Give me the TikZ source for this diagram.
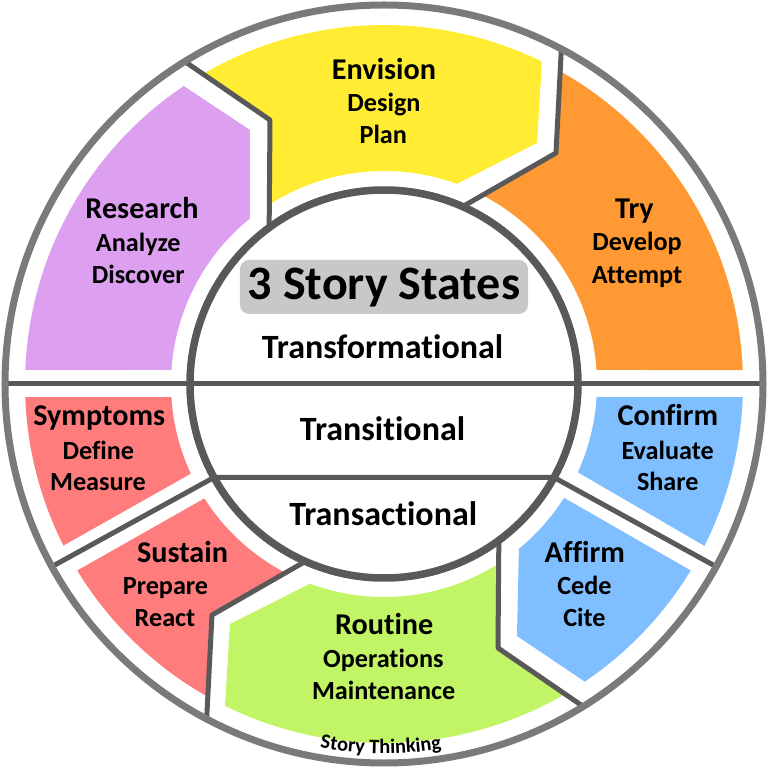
\documentclass[tikz,border=0pt]{standalone}
\usepackage{fontspec}
\setmainfont{Carlito}[Ligatures=NoCommon]
\usetikzlibrary{decorations.text}
\definecolor{ringgray}{HTML}{7A7A7A}
\definecolor{linegray}{HTML}{595959}
\definecolor{boxgray}{HTML}{C8C8C8}
\definecolor{researchfill}{HTML}{DDA0F0}
\definecolor{envisionfill}{HTML}{FFEC33}
\definecolor{tryfill}{HTML}{FF9933}
\definecolor{confirmfill}{HTML}{80BFFF}
\definecolor{routinefill}{HTML}{C1F565}
\definecolor{sustainfill}{HTML}{FF7C7C}
\begin{document}
\begin{tikzpicture}[x=1pt,y=1pt,
  divider/.style={draw=linegray, line width=5pt, line join=round},
  mainword/.style={anchor=base, inner sep=0pt, font=\bfseries\fontsize{30.2}{31}\selectfont},
  subword/.style={anchor=base, inner sep=0pt, font=\bfseries\fontsize{26.2}{27}\selectfont},
  statename/.style={anchor=base, inner sep=0pt, font=\bfseries\fontsize{34}{35}\selectfont}]
\useasboundingbox (-384,-384) rectangle (384,384);

\fill[researchfill] (-134,254) -- (129:213) arc[start angle=129, end angle=176.2, radius=213]
  -- (177.8:359) arc[start angle=177.8, end angle=123.9, radius=359] -- cycle;
\fill[envisionfill] (120.3:359) arc[start angle=120.3, end angle=63.9, radius=359]
  -- (153,241) -- (70:213) arc[start angle=70, end angle=122.4, radius=213] -- (-114,264) -- cycle;
\fill[tryfill] (60.65:359) arc[start angle=60.65, end angle=2.2, radius=359]
  -- (3.8:213) arc[start angle=3.8, end angle=62.2, radius=213] -- (172,231) -- cycle;
\fill[confirmfill] (-2.1:359) arc[start angle=-2.1, end angle=-26.8, radius=359]
  -- (-24.5:213) arc[start angle=-24.5, end angle=-3.5, radius=213] -- cycle;
\fill[confirmfill] (-31.3:359) arc[start angle=-31.3, end angle=-56, radius=359]
  -- (133,-252) -- (-50.7:213) arc[start angle=-50.7, end angle=-32.3, radius=213] -- cycle;
\fill[routinefill] (-59.8:359) arc[start angle=-59.8, end angle=-116.3, radius=359]
  -- (-154,-240) -- (-110.3:213) arc[start angle=-110.3, end angle=-57.6, radius=213] -- (114,-264) -- cycle;
\fill[sustainfill] (211.3:359) arc[start angle=211.3, end angle=240.7, radius=359]
  -- (-172,-231) -- (242.2:213) arc[start angle=242.2, end angle=212.5, radius=213] -- cycle;
\fill[sustainfill] (182.1:359) arc[start angle=182.1, end angle=206.75, radius=359]
  -- (204.9:213) arc[start angle=204.9, end angle=183.5, radius=213] -- cycle;

\draw[divider] (-379,0) -- (379,0);
\draw[divider] (208.8:379) -- (208.8:194) -- (-28.8:194) -- (-28.8:379);
\draw[divider] (121.7:379) -- (-114,264) -- (126.3:194);
\draw[divider] (62.1:379) -- (172,231) -- (66.1:194);
\draw[divider] (-58.3:379) -- (114,-264) -- (-53.7:194);
\draw[divider] (-117.9:379) -- (-172,-231) -- (-113.9:194);
\draw[draw=ringgray, line width=7pt] (0,0) circle[radius=379];
\draw[draw=linegray, line width=7.5pt] (0,0) circle[radius=194];

\node[fill=boxgray, rounded corners=9pt, minimum width=288pt, minimum height=54pt,
  text height=35pt, text depth=9pt, inner sep=0pt,
  font=\bfseries\fontsize{48}{48}\selectfont] (title) at (0,97) {3 Story States};
\node[statename] (transformational) at (-1.5,25.7) {Transformational};
\node[statename] (transitional) at (-1.5,-56.7) {Transitional};
\node[statename] (transactional) at (-0.8,-141.7) {Transactional};

\node[mainword] (envision) at (0,304) {Envision};
\node[subword] (design) at (0,272.3) {Design};
\node[subword] (plan) at (-0.7,240) {Plan};

\node[mainword] (research) at (-242,165.7) {Research};
\node[subword] (analyze) at (-245.7,132.3) {Analyze};
\node[subword] (discover) at (-245.7,100.7) {Discover};

\node[mainword] (try) at (250.5,165.7) {Try};
\node[subword] (develop) at (253,133.3) {Develop};
\node[subword] (attempt) at (253,100.7) {Attempt};

\node[mainword] (symptoms) at (-284.8,-41.7) {Symptoms};
\node[subword] (define) at (-285.7,-75) {Define};
\node[subword] (measure) at (-286,-106.7) {Measure};

\node[mainword] (confirm) at (283.8,-41.7) {Confirm};
\node[subword] (evaluate) at (283.7,-75) {Evaluate};
\node[subword] (share) at (283.8,-106.7) {Share};

\node[mainword] (sustain) at (-201.5,-178.3) {Sustain};
\node[subword] (prepare) at (-218.5,-210.7) {Prepare};
\node[subword] (react) at (-219,-242.7) {React};

\node[mainword] (affirm) at (200.8,-178.3) {Affirm};
\node[subword] (cede) at (200.5,-210.7) {Cede};
\node[subword] (cite) at (200.5,-242.7) {Cite};

\node[mainword] (routine) at (0.2,-250) {Routine};
\node[subword] (operations) at (-0.7,-283.3) {Operations};
\node[subword] (maintenance) at (-0.3,-315) {Maintenance};

\path[decorate, decoration={text along path, text align=center,
  text={|\bfseries\fontsize{20.5}{21}\selectfont|Story Thinking}}]
  (-106:369.5) arc[start angle=-106, end angle=-75, radius=369.5];
\end{tikzpicture}
\end{document}
